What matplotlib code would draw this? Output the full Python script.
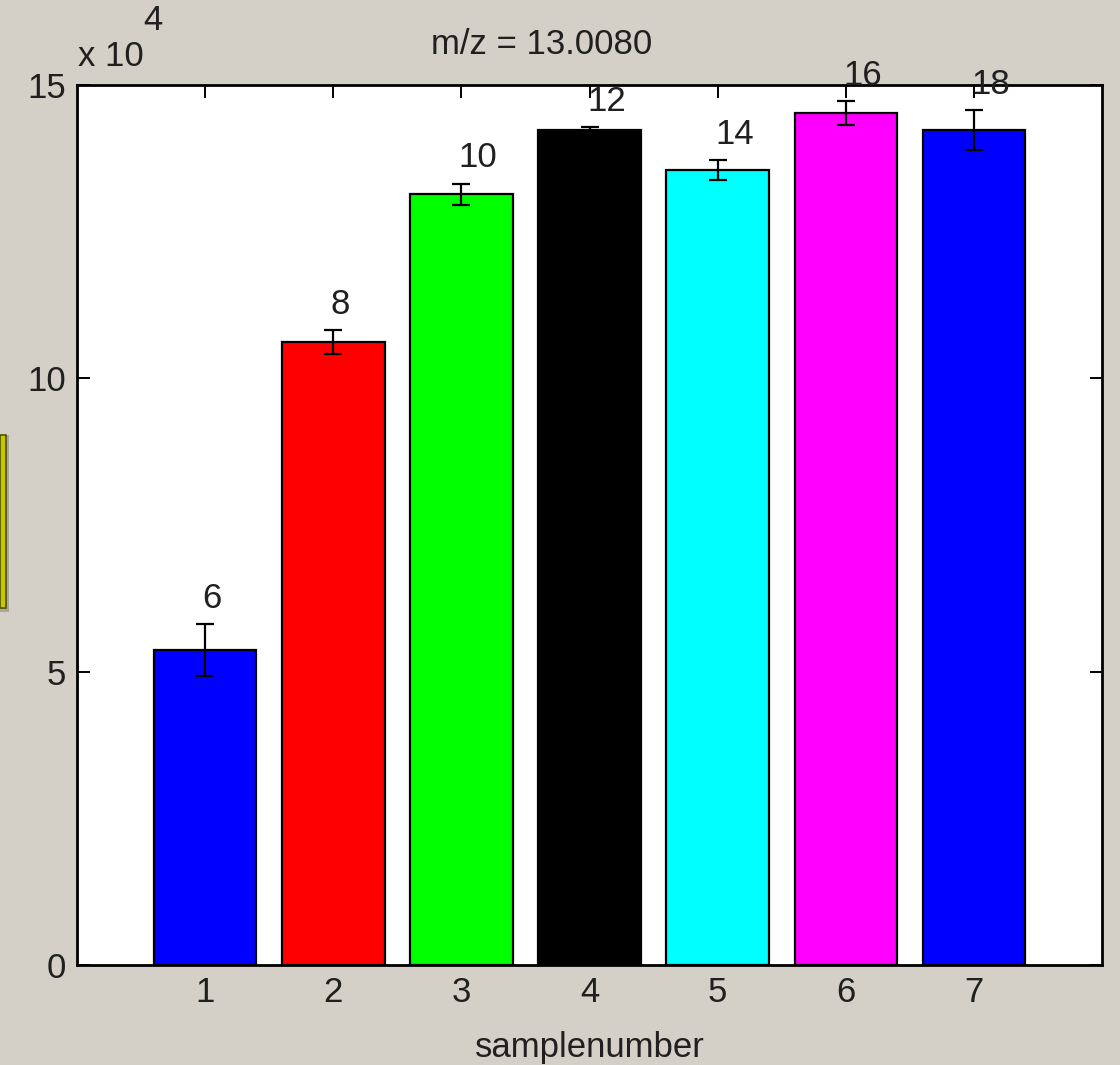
import matplotlib
matplotlib.use("Agg")
import matplotlib.pyplot as plt
from matplotlib.patches import Rectangle
from matplotlib.ticker import FuncFormatter

samples = [1, 2, 3, 4, 5, 6, 7]
means = [53700, 106200, 131400, 142300, 135500, 145200, 142300]
errors = [4400, 2000, 1800, 500, 1700, 2000, 3400]
bar_labels = ["6", "8", "10", "12", "14", "16", "18"]
bar_colors = ["#0000FF", "#FF0000", "#00FF00", "#000000", "#00FFFF", "#FF00FF", "#0000FF"]
yticks = [0, 50000, 100000, 150000]
title = "m/z = 13.0080"
xlabel = "samplenumber"

plt.rcParams['font.family'] = ['Liberation Sans Narrow', 'Liberation Sans', 'DejaVu Sans']
FS = 25

bg = "#D4D0C8"
fig = plt.figure(figsize=(11.2, 10.65), dpi=100, facecolor=bg)
ax = fig.add_axes([77/1120, 1-965/1065, (1102-77)/1120, (965-85)/1065])
ax.set_facecolor("white")

ax.bar(samples, means, width=0.8, color=bar_colors, edgecolor="black", linewidth=1.6, zorder=2)
ax.errorbar(samples, means, yerr=errors, fmt="none", ecolor="black", elinewidth=1.6,
            capsize=6.5, capthick=1.6, zorder=3)

for x, m, e, lab in zip(samples, means, errors, bar_labels):
    ax.text(x - 0.02, m + e + 4400, lab, ha="left", va="center", fontsize=FS, color="#202020",
            zorder=4, clip_on=False)

ax.set_xlim(0, 8)
ax.set_ylim(0, 150000)
ax.set_xticks(samples)
ax.set_yticks(yticks)
ax.yaxis.set_major_formatter(FuncFormatter(lambda v, p: f"{v/1e4:g}"))
ax.tick_params(direction="in", length=9, width=1.4, top=True, right=True,
               labelsize=FS, colors="black", labelcolor="#202020", pad=8)
for s in ax.spines.values():
    s.set_linewidth(2)
    s.set_color("black")

ax.set_xlabel(xlabel, fontsize=FS, color="#202020", labelpad=16)
fig.text(542/1120, 1-44/1065, title, ha="center", va="center", fontsize=FS, color="#202020")
fig.text(78/1120, 1-56/1065, "x 10", ha="left", va="center", fontsize=FS, color="#202020")
fig.text(143/1120, 1-20/1065, "4", ha="left", va="center", fontsize=FS, color="#202020")

# window fragment at left edge
fig.patches.append(Rectangle((0, 1-612/1065), 9/1120, 177/1065, transform=fig.transFigure,
                             facecolor="#A8A8A0", edgecolor="none", zorder=0))
fig.patches.append(Rectangle((0, 1-608/1065), 6/1120, 173/1065, transform=fig.transFigure,
                             facecolor="#C8C800", edgecolor="#505000", linewidth=1.2, zorder=1))

fig.savefig("out.png", dpi=100, facecolor=bg)
